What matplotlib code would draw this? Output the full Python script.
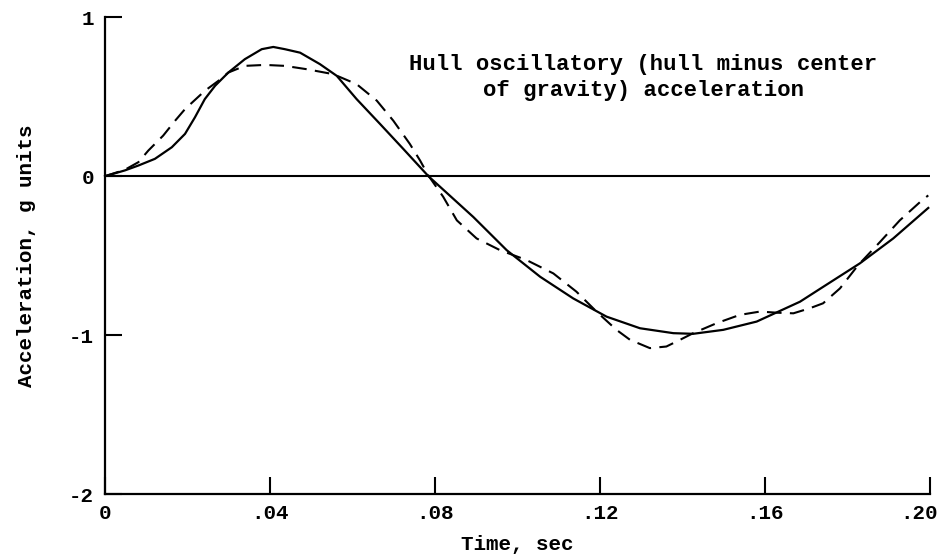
import numpy as np
import matplotlib.pyplot as plt
from matplotlib.transforms import ScaledTranslation

# solid curve (time in sec, acceleration in g)
solid_t = [0, 0.0048, 0.0081, 0.0121, 0.0162, 0.0194, 0.0218, 0.0242, 0.0267, 0.0299,
           0.0339, 0.038, 0.0408, 0.0436, 0.0473, 0.0521, 0.0562, 0.061, 0.0667,
           0.0723, 0.0784, 0.0893, 0.0974, 0.1055, 0.1135, 0.1216, 0.1297, 0.1378,
           0.1426, 0.1499, 0.158, 0.1685, 0.1733, 0.183, 0.1911, 0.1996]
solid_a = [0, 0.036, 0.067, 0.109, 0.182, 0.266, 0.37, 0.485, 0.569, 0.652,
           0.736, 0.799, 0.813, 0.799, 0.777, 0.705, 0.631, 0.485, 0.328,
           0.172, 0.0, -0.257, -0.466, -0.633, -0.769, -0.884, -0.957, -0.988,
           -0.992, -0.967, -0.915, -0.79, -0.71, -0.549, -0.392, -0.2]

# dashed curve
dash_t = [0, 0.0048, 0.0081, 0.0105, 0.0141, 0.017, 0.0194, 0.0242, 0.0275, 0.0299,
          0.0339, 0.0388, 0.0436, 0.0489, 0.0553, 0.061, 0.0659, 0.0699, 0.0739,
          0.0764, 0.0784, 0.082, 0.0853, 0.0901, 0.0958, 0.1022, 0.1087, 0.1143,
          0.1192, 0.124, 0.1273, 0.1321, 0.1361, 0.1394, 0.1426, 0.1483, 0.1539,
          0.1588, 0.1628, 0.1669, 0.1709, 0.1741, 0.1782, 0.1826, 0.1879, 0.1927,
          0.1976, 0.1996]
dash_a = [0, 0.04, 0.088, 0.161, 0.255, 0.349, 0.422, 0.537, 0.6, 0.652,
          0.694, 0.70, 0.694, 0.673, 0.642, 0.579, 0.475, 0.349, 0.203,
          0.098, 0.004, -0.13, -0.278, -0.392, -0.466, -0.528, -0.612, -0.727,
          -0.853, -0.967, -1.03, -1.082, -1.072, -1.03, -0.988, -0.925, -0.873,
          -0.852, -0.859, -0.863, -0.831, -0.80, -0.706, -0.56, -0.414, -0.278,
          -0.163, -0.121]

xticks = [0, 0.04, 0.08, 0.12, 0.16, 0.20]
xlabels = ["0", ".04", ".08", ".12", ".16", ".20"]
yticks = [1, 0, -1, -2]
ylabels = ["1", "0", "-1", "-2"]

plt.rcParams['font.family'] = ['Liberation Mono', 'DejaVu Sans Mono']
plt.rcParams['font.weight'] = 'bold'

fig = plt.figure(figsize=(9.46, 5.56), dpi=100)
ax = fig.add_axes([0.111, 0.1115, 0.872, 0.8575])

ax.plot(solid_t, solid_a, color='black', lw=1.6, clip_on=False)
ax.plot(dash_t, dash_a, color='black', lw=1.5, dashes=(7, 4), clip_on=False)
ax.axhline(0, color='black', lw=1.5)

ax.set_xlim(0, 0.20)
ax.set_ylim(-2, 1)
ax.spines['top'].set_visible(False)
ax.spines['right'].set_visible(False)
ax.spines['left'].set_linewidth(1.6)
ax.spines['bottom'].set_linewidth(1.6)

ax.set_xticks(xticks)
ax.set_xticklabels(xlabels)
ax.set_yticks(yticks)
ax.set_yticklabels(ylabels)
ax.tick_params(direction='in', length=12, width=1.5, labelsize=15)
ax.tick_params(axis='x', pad=7)
ax.tick_params(axis='y', pad=8)

# last x label sits a bit left so it stays inside the figure
last = ax.get_xticklabels()[-1]
last.set_transform(last.get_transform() + ScaledTranslation(-8 / 72, 0, fig.dpi_scale_trans))

ax.set_xlabel("Time, sec", fontsize=15, fontweight='bold')
ax.set_ylabel("Acceleration, g units", fontsize=15, fontweight='bold')
ax.xaxis.set_label_coords(0.5, -0.085)
ax.yaxis.set_label_coords(-0.084, 0.5)

ax.text(0.1305, 0.62, "Hull oscillatory (hull minus center\nof gravity) acceleration",
        ha='center', va='center', fontsize=16, fontweight='bold', linespacing=1.3)

fig.savefig("out.png", dpi=100)
